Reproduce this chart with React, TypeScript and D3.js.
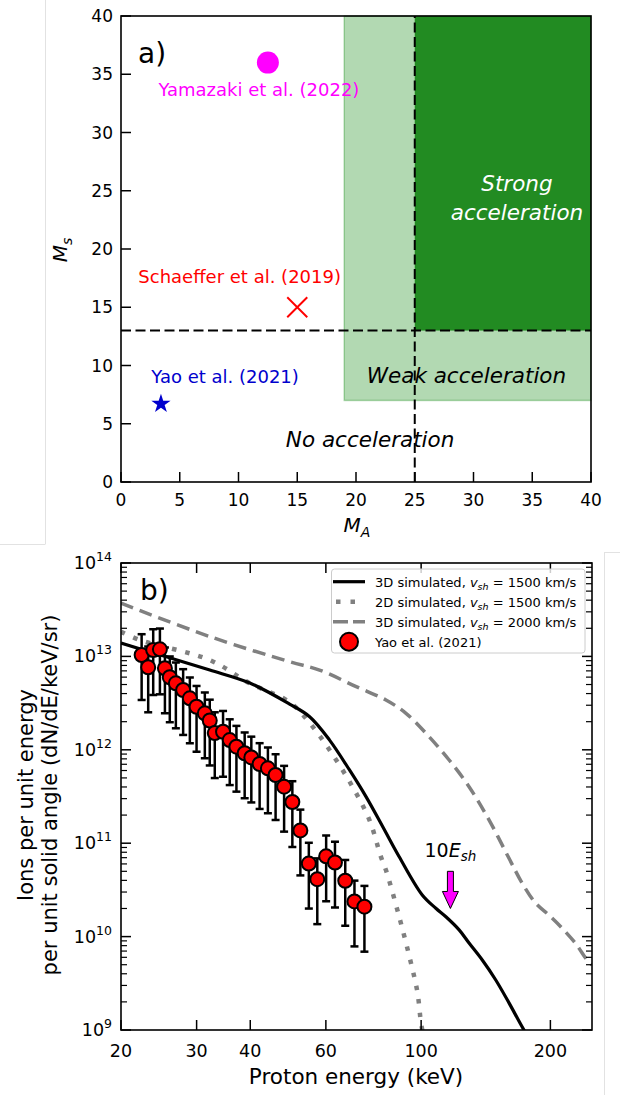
import React from "react";
import * as d3 from "d3";

// ---------- Panel a data ----------
const maTicks = [0, 5, 10, 15, 20, 25, 30, 35, 40];
const msTicks = [0, 5, 10, 15, 20, 25, 30, 35, 40];
const weakMA = [19, 40];
const weakMs = [7, 40];
const strongMA = [25, 40];
const strongMs = [13, 40];
const thresholdMA = 25;
const thresholdMs = 13;
const expNames = ["Yamazaki et al. (2022)", "Schaeffer et al. (2019)", "Yao et al. (2021)"];
const expMA = [12.5, 15, 3.4];
const expMs = [36, 15, 6.8];
const expColors = ["#ff00ff", "#ff0000", "#0000cd"];

// ---------- Panel b data ----------
const energyTicks = [20, 30, 40, 60, 100, 200];
const fluxDecades = [9, 10, 11, 12, 13, 14];

const sim3d1500E = [20, 25.5, 32.2, 39.9, 49.4, 55.0, 61.2, 68.1, 74.4, 81.4, 88.9, 100.6, 108.2, 114.2, 122.6, 129.3, 138.8, 149.2, 160.2, 173.6, 185];
const sim3d1500F = [1.39e13, 9.9e12, 7.14e12, 5.19e12, 3.09e12, 2.26e12, 1.27e12, 6.08e11, 3.15e11, 1.5e11, 7.16e10, 2.79e10, 2.01e10, 1.63e10, 1.18e10, 8.53e9, 5.61e9, 3.43e9, 1.95e9, 1.0e9, 6.3e8];

const sim2d1500E = [20, 22.1, 32.2, 39.9, 49.4, 55.0, 61.2, 69.2, 75.8, 80.6, 82.8, 88.9, 94.7, 98.1, 99.9, 100.6, 101.5];
const sim2d1500F = [1.84e13, 1.5e13, 9.14e12, 5.15e12, 3.24e12, 1.94e12, 9.95e11, 4.03e11, 1.77e11, 7.16e10, 5.16e10, 1.63e10, 5.21e9, 2.49e9, 1.19e9, 1.0e9, 6.3e8];

const sim3d2000E = [20, 32.2, 49.4, 58.0, 70.6, 82.8, 92.2, 104.4, 116.2, 129.3, 143.9, 160.2, 172.0, 184.8, 198.4, 213.0, 228.8, 243.5, 250];
const sim3d2000F = [3.71e13, 1.63e13, 8.77e12, 7.14e12, 4.74e12, 3.41e12, 2.46e12, 1.38e12, 7.78e11, 4.03e11, 1.78e11, 6.89e10, 3.72e10, 2.28e10, 1.7e10, 1.23e10, 8.47e9, 5.61e9, 4.97e9];

const yaoE = [22.34, 23.14, 23.77, 24.64, 25.31, 25.98, 26.84, 27.91, 28.93, 29.99, 31.35, 32.19, 33.07, 34.57, 35.83, 37.14, 38.82, 40.23, 42.06, 43.97, 45.82, 47.96, 50.13, 52.33, 54.76, 57.3, 60.09, 63.0, 66.57, 69.94, 73.78];
const yaoF = [1.035e13, 7.64e12, 1.17e13, 1.19e13, 7.46e12, 5.98e12, 5.15e12, 4.37e12, 3.56e12, 2.89e12, 2.46e12, 2.06e12, 1.51e12, 1.56e12, 1.27e12, 1.08e12, 9.18e11, 8.28e11, 7.05e11, 6.34e11, 5.37e11, 4.03e11, 2.76e11, 1.37e11, 6.05e10, 4.12e10, 7.24e10, 6.21e10, 3.96e10, 2.38e10, 2.09e10];
const yaoRelErr = 0.67;

const arrowE = 117;
const arrowFlux = [5e10, 2e10];

const legendLabels = ["3D simulated, ", "2D simulated, ", "3D simulated, ", "Yao et al. (2021)"];
const legendSpeeds = ["1500", "1500", "2000"];

const FONT = "DejaVu Sans";

export default function App() {
  // Panel a scales
  const xA = d3.scaleLinear().domain([0, 40]).range([121, 591]);
  const yA = d3.scaleLinear().domain([0, 40]).range([482, 16]);
  // Panel b scales
  const xB = d3.scaleLog().domain([20, 250]).range([121, 592]);
  const yB = d3.scaleLog().domain([1e9, 1e14]).range([1030, 563]);

  const line = d3
    .line<[number, number]>()
    .x((d) => xB(d[0]))
    .y((d) => yB(d[1]))
    .curve(d3.curveCatmullRom.alpha(0.5));

  const toPts = (e: number[], f: number[]) => e.map((v, i) => [v, f[i]] as [number, number]);

  const minorY: number[] = [];
  for (let d = 9; d < 14; d++) for (let k = 2; k <= 9; k++) minorY.push(k * Math.pow(10, d));

  const starPath = d3.symbol().type(d3.symbolStar).size(115)() as string;

  // annotation anchors for panel a labels (data coords)
  const labelMA = [11.74, 10.1, 8.86];
  const labelMs = [33.1, 17.1, 8.5];

  const ax = xA.range();
  const ay = yA.range();
  const bx = xB.range();
  const by = yB.range();

  const arrowX = xB(arrowE);
  const arrowTop = yB(arrowFlux[0]);
  const arrowTip = yB(arrowFlux[1]);
  const headStart = arrowTip - 17;

  return (
    <svg
      width={620}
      height={1095}
      style={{ position: "absolute", left: 0, top: 0, background: "#fff" }}
      fontFamily={FONT}
    >
      <rect x={0} y={0} width={620} height={1095} fill="#fff" />
      {/* frame artifacts */}
      <line x1={45.5} y1={0} x2={45.5} y2={544} stroke="#e2e2e2" strokeWidth={1} />
      <line x1={0} y1={544.5} x2={45.5} y2={544.5} stroke="#e2e2e2" strokeWidth={1} />
      <line x1={604.5} y1={552} x2={604.5} y2={1095} stroke="#e2e2e2" strokeWidth={1} />
      <line x1={604.5} y1={552.5} x2={620} y2={552.5} stroke="#e2e2e2" strokeWidth={1} />

      {/* ================= Panel a ================= */}
      <rect
        x={xA(weakMA[0])}
        y={yA(weakMs[1])}
        width={xA(weakMA[1]) - xA(weakMA[0])}
        height={yA(weakMs[0]) - yA(weakMs[1])}
        fill="#008000"
        fillOpacity={0.3}
        stroke="#008000"
        strokeOpacity={0.3}
        strokeWidth={1.5}
      />
      <rect
        x={xA(strongMA[0])}
        y={yA(strongMs[1])}
        width={xA(strongMA[1]) - xA(strongMA[0])}
        height={yA(strongMs[0]) - yA(strongMs[1])}
        fill="#228b22"
      />
      <line x1={xA(0)} x2={xA(40)} y1={yA(thresholdMs)} y2={yA(thresholdMs)} stroke="#000" strokeWidth={2} strokeDasharray="10,4.5" />
      <line x1={xA(thresholdMA)} x2={xA(thresholdMA)} y1={yA(0)} y2={yA(40)} stroke="#000" strokeWidth={2} strokeDasharray="10,4.5" />

      {/* region labels */}
      <text x={xA(33.7)} y={yA(25.0)} textAnchor="middle" fontSize={21.5} fontStyle="italic" fill="#fff">Strong</text>
      <text x={xA(33.7)} y={yA(22.5)} textAnchor="middle" fontSize={21.5} fontStyle="italic" fill="#fff">acceleration</text>
      <text x={xA(29.4)} y={yA(8.5)} textAnchor="middle" fontSize={21.5} fontStyle="italic" fill="#000">Weak acceleration</text>
      <text x={xA(21.2)} y={yA(3.03)} textAnchor="middle" fontSize={21.5} fontStyle="italic" fill="#000">No acceleration</text>

      {/* experiments */}
      <circle cx={xA(expMA[0])} cy={yA(expMs[0])} r={11} fill={expColors[0]} />
      <g stroke={expColors[1]} strokeWidth={2}>
        <line x1={xA(expMA[1]) - 10} y1={yA(expMs[1]) - 10} x2={xA(expMA[1]) + 10} y2={yA(expMs[1]) + 10} />
        <line x1={xA(expMA[1]) - 10} y1={yA(expMs[1]) + 10} x2={xA(expMA[1]) + 10} y2={yA(expMs[1]) - 10} />
      </g>
      <path d={starPath} transform={`translate(${xA(expMA[2])},${yA(expMs[2]) + 1})`} fill={expColors[2]} />
      {expNames.map((n, i) => (
        <text key={n} x={xA(labelMA[i])} y={yA(labelMs[i])} textAnchor="middle" fontSize={18} fill={expColors[i]}>
          {n}
        </text>
      ))}

      {/* panel a ticks */}
      {maTicks.map((t) => (
        <g key={"ma" + t}>
          <line x1={xA(t)} x2={xA(t)} y1={ay[0]} y2={ay[0] - 10} stroke="#000" strokeWidth={1.5} />
          <text x={xA(t)} y={ay[0] + 24} textAnchor="middle" fontSize={17}>{t}</text>
        </g>
      ))}
      {msTicks.map((t) => (
        <g key={"ms" + t}>
          <line x1={ax[0]} x2={ax[0] + 10} y1={yA(t)} y2={yA(t)} stroke="#000" strokeWidth={1.5} />
          <text x={ax[0] - 8} y={yA(t) + 6} textAnchor="end" fontSize={17}>{t}</text>
        </g>
      ))}
      <rect x={ax[0]} y={ay[1]} width={ax[1] - ax[0]} height={ay[0] - ay[1]} fill="none" stroke="#000" strokeWidth={1.6} />
      <text x={138} y={63} fontSize={28}>a)</text>
      <text x={357} y={532} textAnchor="middle" fontSize={20}>
        <tspan fontStyle="italic">M</tspan>
        <tspan fontStyle="italic" fontSize={14} dy={5}>A</tspan>
      </text>
      <text transform={`translate(67,250) rotate(-90)`} textAnchor="middle" fontSize={20}>
        <tspan fontStyle="italic">M</tspan>
        <tspan fontStyle="italic" fontSize={14} dy={5}>s</tspan>
      </text>

      {/* ================= Panel b ================= */}
      <defs>
        <clipPath id="clipB">
          <rect x={bx[0]} y={by[1]} width={bx[1] - bx[0]} height={by[0] - by[1]} />
        </clipPath>
      </defs>
      <g clipPath="url(#clipB)">
        <path d={line(toPts(sim3d2000E, sim3d2000F)) as string} fill="none" stroke="#808080" strokeWidth={3.5} strokeDasharray="13,7" />
        <path d={line(toPts(sim2d1500E, sim2d1500F)) as string} fill="none" stroke="#808080" strokeWidth={4.5} strokeDasharray="4.5,9" />
        <path d={line(toPts(sim3d1500E, sim3d1500F)) as string} fill="none" stroke="#000" strokeWidth={3.2} />
        {/* error bars */}
        {yaoE.map((e, i) => {
          const x = xB(e);
          const yl = yB(yaoF[i] * (1 - yaoRelErr));
          const yh = yB(yaoF[i] * (1 + yaoRelErr));
          return (
            <g key={"eb" + i} stroke="#000" strokeWidth={2.5}>
              <line x1={x} x2={x} y1={yl} y2={yh} />
              <line x1={x - 4} x2={x + 4} y1={yl} y2={yl} />
              <line x1={x - 4} x2={x + 4} y1={yh} y2={yh} />
            </g>
          );
        })}
        {yaoE.map((e, i) => (
          <circle key={"pt" + i} cx={xB(e)} cy={yB(yaoF[i])} r={7} fill="#ff0000" stroke="#000" strokeWidth={2} />
        ))}
      </g>

      {/* arrow */}
      <path
        d={`M${arrowX - 3},${arrowTop} L${arrowX + 3},${arrowTop} L${arrowX + 3},${headStart} L${arrowX + 8},${headStart} L${arrowX},${arrowTip} L${arrowX - 8},${headStart} L${arrowX - 3},${headStart} Z`}
        fill="#ff00ff"
        stroke="#000"
        strokeWidth={1}
      />
      <text x={arrowX} y={857} textAnchor="middle" fontSize={19}>
        <tspan>10</tspan>
        <tspan fontStyle="italic">E</tspan>
        <tspan fontStyle="italic" fontSize={13.5} dy={4}>sh</tspan>
      </text>

      {/* y ticks panel b */}
      {fluxDecades.map((d) => {
        const y = yB(Math.pow(10, d));
        return (
          <g key={"fd" + d}>
            <line x1={bx[0]} x2={bx[0] + 10} y1={y} y2={y} stroke="#000" strokeWidth={1.5} />
            <line x1={bx[1]} x2={bx[1] - 10} y1={y} y2={y} stroke="#000" strokeWidth={1.5} />
            <text x={112} y={y + 6} textAnchor="end" fontSize={17.5}>
              <tspan>10</tspan>
              <tspan fontSize={12.5} dy={-8}>{d}</tspan>
            </text>
          </g>
        );
      })}
      {minorY.map((v, i) => {
        const y = yB(v);
        return (
          <g key={"my" + i}>
            <line x1={bx[0]} x2={bx[0] + 6} y1={y} y2={y} stroke="#000" strokeWidth={1.2} />
            <line x1={bx[1]} x2={bx[1] - 6} y1={y} y2={y} stroke="#000" strokeWidth={1.2} />
          </g>
        );
      })}
      {energyTicks.map((t) => (
        <g key={"et" + t}>
          <line x1={xB(t)} x2={xB(t)} y1={by[0]} y2={by[0] - 10} stroke="#000" strokeWidth={1.5} />
          <line x1={xB(t)} x2={xB(t)} y1={by[1]} y2={by[1] + 10} stroke="#000" strokeWidth={1.5} />
          <text x={xB(t)} y={by[0] + 27} textAnchor="middle" fontSize={17.5}>{t}</text>
        </g>
      ))}
      <rect x={bx[0]} y={by[1]} width={bx[1] - bx[0]} height={by[0] - by[1]} fill="none" stroke="#000" strokeWidth={1.6} />
      <text x={140} y={600} fontSize={28}>b)</text>
      <text x={356} y={1084} textAnchor="middle" fontSize={21.5}>Proton energy (keV)</text>
      <text transform={`translate(33,795) rotate(-90)`} textAnchor="middle" fontSize={21}>Ions per unit energy</text>
      <text transform={`translate(57,795) rotate(-90)`} textAnchor="middle" fontSize={21}>per unit solid angle (dN/dE/keV/sr)</text>

      {/* legend */}
      <rect x={331.5} y={569} width={253.5} height={84} rx={3} fill="#fff" fillOpacity={0.8} stroke="#cccccc" strokeWidth={1} />
      {legendLabels.map((lab, i) => {
        const cy = 581.7 + i * 20;
        let handle;
        if (i === 0) handle = <line x1={333} x2={365} y1={cy} y2={cy} stroke="#000" strokeWidth={3.2} />;
        else if (i === 1) handle = <line x1={336} x2={365} y1={cy} y2={cy} stroke="#808080" strokeWidth={4.5} strokeDasharray="4.5,10" />;
        else if (i === 2) handle = <line x1={333} x2={365} y1={cy} y2={cy} stroke="#808080" strokeWidth={3.5} strokeDasharray="15,5" />;
        else handle = <circle cx={349} cy={cy} r={9} fill="#ff0000" stroke="#000" strokeWidth={2} />;
        return (
          <g key={"lg" + i}>
            {handle}
            <text x={375} y={cy + 4.8} fontSize={13}>
              <tspan>{lab}</tspan>
              {i < 3 && (
                <>
                  <tspan fontStyle="italic">v</tspan>
                  <tspan fontStyle="italic" fontSize={9.5} dy={3}>sh</tspan>
                  <tspan dy={-3}>{" = " + legendSpeeds[i] + " km/s"}</tspan>
                </>
              )}
            </text>
          </g>
        );
      })}
    </svg>
  );
}
